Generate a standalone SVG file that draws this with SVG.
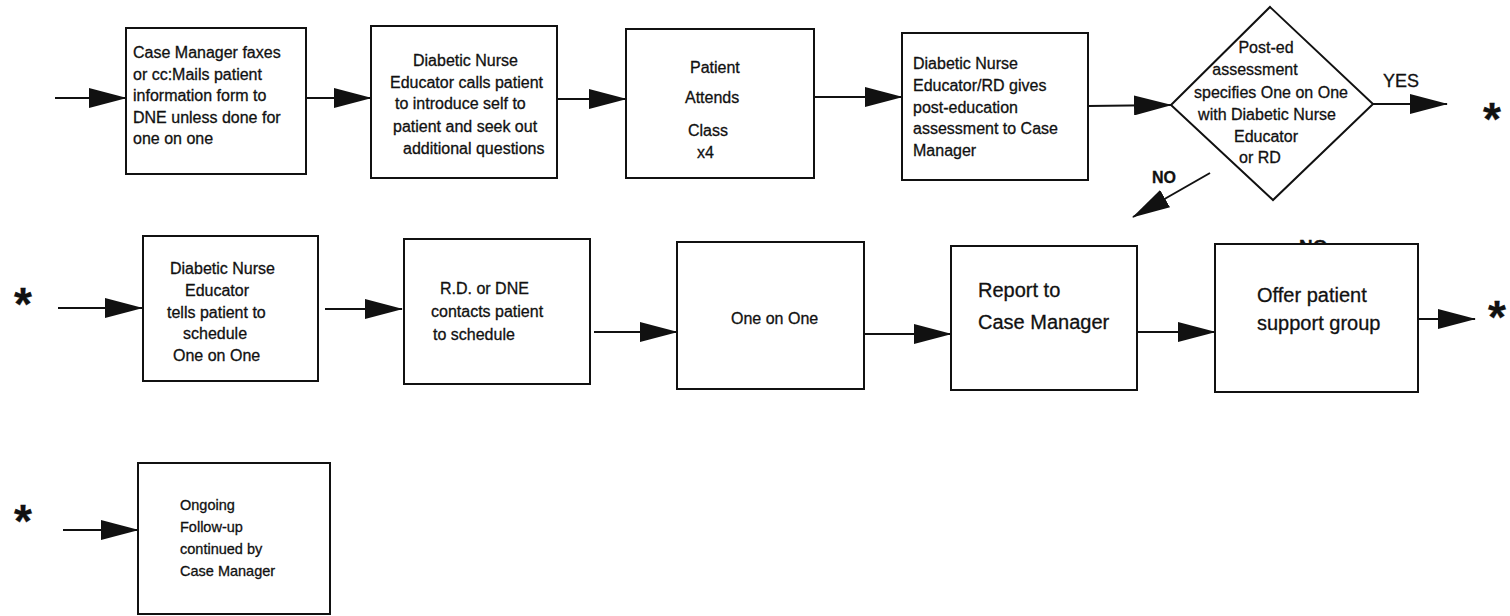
<svg xmlns="http://www.w3.org/2000/svg" width="1510" height="616" viewBox="0 0 1510 616">
  <style>
    .box { fill: #fff; stroke: #111; stroke-width: 2; }
    .link { fill: none; stroke: #111; stroke-width: 2; marker-end: url(#head); }
    text { font-family: "Liberation Sans", Arial, sans-serif; fill: #111; stroke: #111; stroke-width: 0.3; }
    .t { font-size: 16px; }
    .s { font-size: 14.5px; }
    .big { font-size: 20px; }
    .lbl { font-size: 18px; }
    .bold { font-weight: bold; }
    .star { font-size: 46px; font-weight: bold; }
  </style>
  <defs>
    <marker id="head" viewBox="0 0 38 20" refX="37" refY="10" markerWidth="38" markerHeight="20" markerUnits="userSpaceOnUse" orient="auto">
      <path d="M0,0 L38,10 L0,20 Z" fill="#111"/>
    </marker>
  </defs>
  <rect width="1510" height="616" fill="#fff"/>

  <!-- connectors -->
  <g id="connectors">
    <line class="link" x1="55" y1="98" x2="126" y2="98"/>
    <line class="link" x1="306" y1="98" x2="371" y2="98"/>
    <line class="link" x1="557" y1="99" x2="626" y2="99"/>
    <line class="link" x1="814" y1="97" x2="902" y2="97"/>
    <line class="link" x1="1088" y1="106" x2="1171" y2="105"/>
    <line class="link" x1="1373" y1="104" x2="1447" y2="104"/>
    <line class="link" x1="1210" y1="173" x2="1133" y2="217"/>
    <line class="link" x1="58" y1="308" x2="142" y2="308"/>
    <line class="link" x1="325" y1="309" x2="402" y2="309"/>
    <line class="link" x1="594" y1="332" x2="677" y2="332"/>
    <line class="link" x1="864" y1="334" x2="951" y2="334"/>
    <line class="link" x1="1128" y1="332" x2="1215" y2="332"/>
    <line class="link" x1="1418" y1="319" x2="1475" y2="319"/>
    <line class="link" x1="63" y1="530" x2="138" y2="530"/>
  </g>

  <!-- labels on branches -->
  <g id="labels">
    <text class="lbl" x="1383" y="87">YES</text>
    <text class="t bold" x="1152" y="183">NO</text>
    <text class="bold" font-size="19" x="1299" y="253">NO</text>
  </g>

  <!-- off-page continuation marks -->
  <g id="stars">
    <text class="star" x="1492" y="135" text-anchor="middle">*</text>
    <text class="star" x="23" y="320" text-anchor="middle">*</text>
    <text class="star" x="1497" y="333" text-anchor="middle">*</text>
    <text class="star" x="23" y="537" text-anchor="middle">*</text>
  </g>

  <g id="n1">
    <rect class="box" x="126" y="28" width="180" height="146"/>
    <text class="t" x="133" y="58">Case Manager faxes</text>
    <text class="t" x="133" y="79.5">or cc:Mails patient</text>
    <text class="t" x="133" y="101">information form to</text>
    <text class="t" x="133" y="122.5">DNE unless done for</text>
    <text class="t" x="133" y="144">one on one</text>
  </g>

  <g id="n2">
    <rect class="box" x="371" y="26" width="186" height="152"/>
    <text class="t" x="413" y="66">Diabetic Nurse</text>
    <text class="t" x="390" y="88">Educator calls patient</text>
    <text class="t" x="395" y="109">to introduce self to</text>
    <text class="t" x="393" y="132">patient and seek out</text>
    <text class="t" x="403" y="154">additional questions</text>
  </g>

  <g id="n3">
    <rect class="box" x="626" y="29" width="188" height="149"/>
    <text class="t" x="690" y="73">Patient</text>
    <text class="t" x="685" y="103">Attends</text>
    <text class="t" x="688" y="136">Class</text>
    <text class="t" x="697" y="158">x4</text>
  </g>

  <g id="n4">
    <rect class="box" x="902" y="33" width="186" height="147"/>
    <text class="t" x="913" y="69">Diabetic Nurse</text>
    <text class="t" x="913" y="91">Educator/RD gives</text>
    <text class="t" x="913" y="113">post-education</text>
    <text class="t" x="913" y="134">assessment to Case</text>
    <text class="t" x="913" y="156">Manager</text>
  </g>

  <g id="decision">
    <polygon class="box" points="1171,105 1270,7 1373,104 1273,200"/>
    <text class="t" x="1266" y="53" text-anchor="middle">Post-ed</text>
    <text class="t" x="1255" y="75" text-anchor="middle">assessment</text>
    <text class="t" x="1271" y="98" text-anchor="middle">specifies One on One</text>
    <text class="t" x="1267" y="120" text-anchor="middle">with Diabetic Nurse</text>
    <text class="t" x="1266" y="142" text-anchor="middle">Educator</text>
    <text class="t" x="1260" y="163" text-anchor="middle">or RD</text>
  </g>

  <g id="n5">
    <rect class="box" x="143" y="236" width="175" height="145"/>
    <text class="t" x="170" y="274">Diabetic Nurse</text>
    <text class="t" x="185" y="296">Educator</text>
    <text class="t" x="167" y="318">tells patient to</text>
    <text class="t" x="183" y="339">schedule</text>
    <text class="t" x="173" y="361">One on One</text>
  </g>

  <g id="n6">
    <rect class="box" x="404" y="239" width="186" height="145"/>
    <text class="t" x="440" y="294">R.D. or DNE</text>
    <text class="t" x="431" y="317">contacts patient</text>
    <text class="t" x="433" y="340">to schedule</text>
  </g>

  <g id="n7">
    <rect class="box" x="677" y="242" width="187" height="147"/>
    <text class="t" x="731" y="324">One on One</text>
  </g>

  <g id="n8">
    <rect class="box" x="951" y="246" width="186" height="144"/>
    <text class="big" x="978" y="297">Report to</text>
    <text class="big" x="978" y="329">Case Manager</text>
  </g>

  <g id="n9">
    <rect class="box" x="1215" y="244" width="203" height="148"/>
    <text class="big" x="1257" y="302">Offer patient</text>
    <text class="big" x="1257" y="330">support group</text>
  </g>

  <g id="n10">
    <rect class="box" x="138" y="463" width="192" height="151"/>
    <text class="s" x="180" y="510">Ongoing</text>
    <text class="s" x="180" y="532">Follow-up</text>
    <text class="s" x="180" y="554">continued by</text>
    <text class="s" x="180" y="576">Case Manager</text>
  </g>
</svg>
